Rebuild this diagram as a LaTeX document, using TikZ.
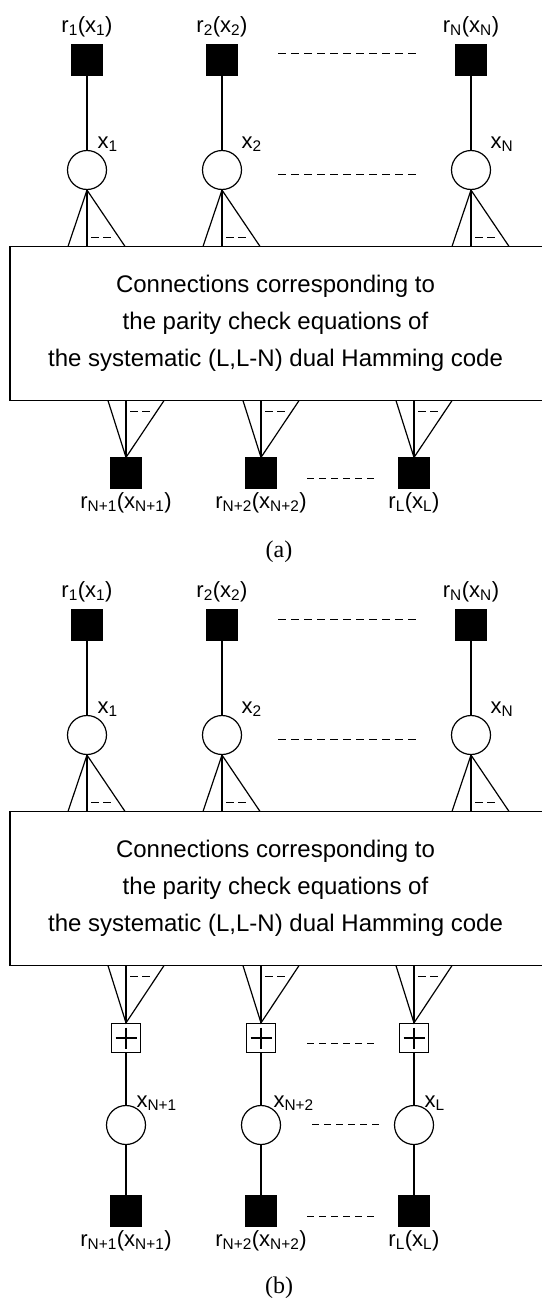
\documentclass[tikz,border=0pt]{standalone}
\usepackage{fontspec}
\setmainfont{Liberation Sans}
\newfontfamily\capfont{Liberation Serif}
\usetikzlibrary{positioning}
\newcommand\lblfont{\fontsize{22}{26}\selectfont}
\tikzset{
  obs/.style={
    shape = rectangle,
    draw,
    fill,
    inner sep = 0pt,
    minimum size = 30pt
  },
  var/.style={
    shape = circle,
    draw,
    inner sep = 0pt,
    minimum size = 39pt
  },
  chk/.style={
    shape = rectangle,
    draw,
    inner sep = 0pt,
    minimum size = 29pt,
    path picture={
      \draw[line width=1.1pt] ([xshift=4pt]path picture bounding box.west) -- ([xshift=-4pt]path picture bounding box.east);
      \draw[line width=1.1pt] ([yshift=-4pt]path picture bounding box.north) -- ([yshift=4pt]path picture bounding box.south);
    }
  },
  conn/.style={
    inner sep = 0pt,
    minimum width = 530pt,
    minimum height = 153pt,
    align = center,
    font = \fontsize{24}{37}\selectfont
  },
  dots/.style={
    line width = 1pt,
    dash pattern = on 8pt off 5pt
  },
  twodash/.style={
    line width = 1pt,
    dash pattern = on 8pt off 4pt
  },
  every label/.style={
    font = \lblfont,
    inner sep = 0pt
  }
}

\begin{document}
\begin{tikzpicture}[x=1pt,y=1pt,line width=1.2pt]
  \useasboundingbox (0,0) rectangle (541,-1306);
  % upper half, the same in (a) and (b)
  \foreach \p/\off in {a/0,b/565}{
    \node[conn] (box\p) at (275.5,-323.5-\off) {Connections corresponding to\\the parity check equations of\\the systematic (L,L-N) dual Hamming code};
    \draw (box\p.north west) rectangle ([xshift=12pt]box\p.south east);
    \foreach \c/\x/\s/\d in {1/87/1/10, 2/222/2/19, 3/471/N/19}{
      \node[obs,label={[label distance=7pt]above:r\textsubscript{\s}(x\textsubscript{\s})}] (r\p\c) at (\x,-60-\off) {};
      \node[var] (x\p\c) at (\x,-170-\off) {};
      \node[anchor=base west,inner sep=0pt,font=\lblfont] at (\x+\d,-148-\off) {x\textsubscript{\s}};
      \draw (r\p\c) -- (x\p\c);
      \draw (x\p\c.south) -- (x\p\c.south |- box\p.north);
      \draw ([xshift=-19pt]x\p\c.south |- box\p.north) -- (x\p\c.south) -- ([xshift=38pt]x\p\c.south |- box\p.north);
      \draw[twodash] ([shift={(4pt,9pt)}]x\p\c.south |- box\p.north) --++ (20pt,0);
    }
    \draw[dots] (278,-54-\off) -- (418,-54-\off);
    \draw[dots] (278,-174-\off) -- (418,-174-\off);
  }
  % lower half of (a)
  \foreach \c/\x/\s in {1/126/N+1, 2/261/N+2, 3/414/L}{
    \node[obs,label={[label distance=3pt]below:r\textsubscript{\s}(x\textsubscript{\s})}] (sa\c) at (\x,-473) {};
    \draw (sa\c.north) -- (sa\c.north |- boxa.south);
    \draw ([xshift=-18pt]sa\c.north |- boxa.south) -- (sa\c.north) -- ([xshift=38pt]sa\c.north |- boxa.south);
    \draw[twodash] ([shift={(4pt,-11pt)}]sa\c.north |- boxa.south) --++ (20pt,0);
  }
  \draw[dots,dash pattern=on 7pt off 5pt] (307,-478) -- (377,-478);
  \node[font=\capfont\fontsize{24}{28}\selectfont] (capa) at (279,-552) {(a)};
  % lower half of (b)
  \foreach \c/\x/\s/\d in {1/126/N+1/10, 2/261/N+2/12, 3/414/L/10}{
    \node[chk] (cb\c) at (\x,-1038) {};
    \node[var] (vb\c) at (\x,-1125) {};
    \node[obs,label={[label distance=3pt]below:r\textsubscript{\s}(x\textsubscript{\s})}] (sb\c) at (\x,-1211) {};
    \node[anchor=base west,inner sep=0pt,font=\lblfont] at (\x+\d,-1107) {x\textsubscript{\s}};
    \draw (cb\c) -- (vb\c) -- (sb\c);
    \draw (cb\c.north) -- (cb\c.north |- boxb.south);
    \draw ([xshift=-18pt]cb\c.north |- boxb.south) -- (cb\c.north) -- ([xshift=38pt]cb\c.north |- boxb.south);
    \draw[twodash] ([shift={(4pt,-11pt)}]cb\c.north |- boxb.south) --++ (20pt,0);
  }
  \draw[dots,dash pattern=on 7pt off 5pt] (307,-1043) -- (377,-1043);
  \draw[dots,dash pattern=on 7pt off 5pt] (312,-1124) -- (380,-1124);
  \draw[dots,dash pattern=on 7pt off 5pt] (307,-1216) -- (377,-1216);
  \node[font=\capfont\fontsize{24}{28}\selectfont] (capb) at (279,-1288) {(b)};
\end{tikzpicture}
\end{document}
